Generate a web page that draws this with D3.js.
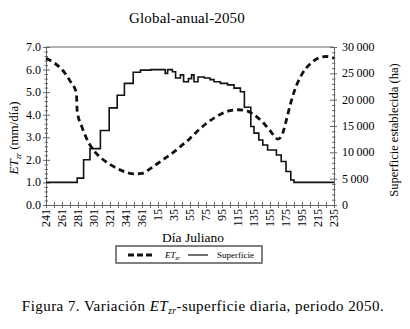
<!DOCTYPE html>
<html>
<head>
<meta charset="utf-8">
<script src="https://cdn.jsdelivr.net/npm/d3@7"></script>
<style>
  body { margin: 0; background: #fff; }
  svg { display: block; font-family: "Liberation Serif", "DejaVu Serif", serif; }
</style>
</head>
<body>
<div id="container"></div>
<script>
// ### DATA ###
// x position = day index since day 241 (0..360), labelled with the Julian day
const dayIndex = [0, 20, 40, 60, 80, 100, 120, 140, 160, 180, 200, 220, 240, 260, 280, 300, 320, 340, 360];
const dayLabels = ['241', '261', '281', '301', '321', '341', '361', '15', '35', '55', '75', '95', '115', '135', '155', '175', '195', '215', '235'];

// ETzr (mm/día), dashed line
const etIndex = [0, 10, 20, 30, 38, 39, 45, 50, 60, 70, 80, 90, 100, 110, 120, 130, 140, 150, 160, 170, 180, 190, 200, 210, 220, 230, 240, 250, 260, 270, 280, 290, 295, 300, 305, 310, 320, 330, 340, 350, 360];
const etValues = [6.5, 6.3, 6.0, 5.5, 4.95, 4.15, 3.45, 3.0, 2.4, 2.05, 1.8, 1.6, 1.45, 1.38, 1.4, 1.6, 1.85, 2.1, 2.35, 2.65, 2.95, 3.3, 3.6, 3.85, 4.05, 4.18, 4.22, 4.18, 4.0, 3.7, 3.3, 2.92, 3.1, 3.7, 4.4, 5.0, 5.8, 6.25, 6.5, 6.58, 6.5];

// Superficie establecida (ha), step line
const supIndex = [0, 39, 47, 55, 68, 79, 89, 98, 109, 118, 131, 149, 152, 158, 162, 168, 172, 178, 182, 185, 190, 198, 205, 210, 218, 227, 235, 243, 248, 256, 260, 266, 271, 277, 288, 294, 300, 306, 310, 360];
const supValues = [4300, 5100, 8600, 10700, 14150, 18450, 20850, 23100, 25200, 25600, 25700, 25000, 25700, 25300, 24100, 24700, 23400, 24000, 24700, 23400, 24300, 24100, 23800, 23400, 23100, 22800, 22200, 21500, 18550, 14900, 13650, 12350, 11400, 10450, 9500, 8250, 6350, 4750, 4300, 4300];

const leftTicks = [0, 1, 2, 3, 4, 5, 6, 7];
const rightTicks = [0, 5000, 10000, 15000, 20000, 25000, 30000];

// ### LAYOUT ###
const width = 410;
const height = 329;
const axisColor = '#666';

const svg = d3.select('#container').append('svg')
  .attr('width', width)
  .attr('height', height);

const x = d3.scaleLinear().domain([0, 360]).range([46, 334]);
const yL = d3.scaleLinear().domain([0, 7]).range([205, 47]);
const yR = d3.scaleLinear().domain([0, 30000]).range([205, 47]);

// title
svg.append('text')
  .attr('x', 187).attr('y', 23)
  .attr('text-anchor', 'middle')
  .style('font-size', '15px')
  .style('letter-spacing', '0.15px')
  .text('Global-anual-2050');

// top frame line
svg.append('line')
  .attr('x1', x(0)).attr('x2', x(360))
  .attr('y1', yL(7)).attr('y2', yL(7))
  .attr('stroke', axisColor).attr('stroke-width', 1);

// --- left axis ---
const leftAxis = svg.append('g').attr('transform', `translate(${x(0)},0)`);
leftAxis.call(d3.axisLeft(yL).tickValues(d3.range(0, 7.01, 0.2)).tickSize(0).tickFormat(''));
leftAxis.selectAll('.tick line').remove();
leftAxis.selectAll('.tick').append('line')
  .attr('x1', d => Math.abs(d - Math.round(d)) < 1e-6 ? -3 : -1.5)
  .attr('x2', d => Math.abs(d - Math.round(d)) < 1e-6 ? 4 : 2)
  .attr('stroke', axisColor);
leftAxis.select('.domain').attr('stroke', axisColor);
svg.append('g').selectAll('text')
  .data(leftTicks).enter().append('text')
  .attr('x', 41).attr('y', d => yL(d) + 4)
  .attr('text-anchor', 'end')
  .style('font-size', '12px')
  .text(d => d3.format('.1f')(d));

// --- right axis ---
const rightAxis = svg.append('g').attr('transform', `translate(${x(360)},0)`);
rightAxis.call(d3.axisRight(yR).tickValues(d3.range(0, 30001, 1000)).tickSize(0).tickFormat(''));
rightAxis.selectAll('.tick line').remove();
rightAxis.selectAll('.tick').append('line')
  .attr('x1', d => d % 5000 === 0 ? -4 : -2)
  .attr('x2', d => d % 5000 === 0 ? 3 : 1.5)
  .attr('stroke', axisColor);
rightAxis.select('.domain').attr('stroke', axisColor);
svg.append('g').selectAll('text')
  .data(rightTicks).enter().append('text')
  .attr('x', 342).attr('y', d => yR(d) + 4)
  .style('font-size', '12px')
  .text(d => d === 0 ? '0' : d3.format(',')(d).replace(',', '\u2009'));

// --- bottom axis ---
const bottomAxis = svg.append('g').attr('transform', `translate(0,${yL(0)})`);
bottomAxis.call(d3.axisBottom(x).tickValues(d3.range(0, 361, 10)).tickSize(0).tickFormat(''));
bottomAxis.selectAll('.tick line').remove();
bottomAxis.selectAll('.tick').append('line')
  .attr('y1', -3).attr('y2', 3)
  .attr('stroke', axisColor);
bottomAxis.select('.domain').attr('stroke', axisColor);
svg.append('g').selectAll('text')
  .data(dayIndex).enter().append('text')
  .attr('transform', (d, i) => `translate(${x(d) + 4},209) rotate(-90)`)
  .attr('text-anchor', 'end')
  .style('font-size', '12px')
  .text((d, i) => dayLabels[i]);

// axis titles
const leftTitle = svg.append('text')
  .attr('transform', 'translate(18,138) rotate(-90)')
  .attr('text-anchor', 'middle')
  .style('font-size', '13px');
leftTitle.append('tspan').style('font-style', 'italic').text('ET');
leftTitle.append('tspan').style('font-style', 'italic').style('font-size', '8px').attr('dy', 3).text('zr');
leftTitle.append('tspan').attr('dy', -3).text(' (mm/día)');

svg.append('text')
  .attr('transform', 'translate(398,130) rotate(-90)')
  .attr('text-anchor', 'middle')
  .style('font-size', '12.5px')
  .text('Superficie establecida (ha)');

svg.append('text')
  .attr('x', 193).attr('y', 242)
  .attr('text-anchor', 'middle')
  .style('font-size', '13.5px')
  .text('Día Juliano');

// --- lines ---
const etLine = d3.line()
  .x((d, i) => x(etIndex[i]))
  .y(d => yL(d))
  .curve(d3.curveMonotoneX);

svg.append('path')
  .datum(etValues)
  .attr('d', etLine)
  .attr('fill', 'none')
  .attr('stroke', '#111')
  .attr('stroke-width', 2.8)
  .attr('stroke-dasharray', '6,4');

const supLine = d3.line()
  .x((d, i) => x(supIndex[i]))
  .y(d => yR(d))
  .curve(d3.curveStepAfter);

svg.append('path')
  .datum(supValues)
  .attr('d', supLine)
  .attr('fill', 'none')
  .attr('stroke', '#111')
  .attr('stroke-width', 1.6);

// --- legend ---
const legend = svg.append('g');
legend.append('rect')
  .attr('x', 116).attr('y', 246)
  .attr('width', 146).attr('height', 17)
  .attr('fill', '#fff')
  .attr('stroke', '#555').attr('stroke-width', 1.5);
legend.append('line')
  .attr('x1', 128).attr('x2', 154).attr('y1', 255).attr('y2', 255)
  .attr('stroke', '#111').attr('stroke-width', 2.8).attr('stroke-dasharray', '6,3');
const legText = legend.append('text')
  .attr('x', 165).attr('y', 258)
  .style('font-size', '9px');
legText.append('tspan').style('font-style', 'italic').text('ET');
legText.append('tspan').style('font-style', 'italic').style('font-size', '6px').attr('dy', 2).text('zr');
legend.append('line')
  .attr('x1', 188).attr('x2', 208).attr('y1', 255).attr('y2', 255)
  .attr('stroke', '#111').attr('stroke-width', 1.2);
legend.append('text')
  .attr('x', 217).attr('y', 258)
  .style('font-size', '9px')
  .text('Superficie');

// --- caption ---
const caption = svg.append('text')
  .attr('x', 203).attr('y', 311)
  .attr('text-anchor', 'middle')
  .style('font-size', '15px')
  .style('letter-spacing', '0.45px');
caption.append('tspan').text('Figura 7. Variación ');
caption.append('tspan').style('font-style', 'italic').text('ET');
caption.append('tspan').style('font-style', 'italic').style('font-size', '9.5px').attr('dy', 3).text('zr');
caption.append('tspan').attr('dy', -3).text('-superficie diaria, periodo 2050.');
</script>
</body>
</html>
